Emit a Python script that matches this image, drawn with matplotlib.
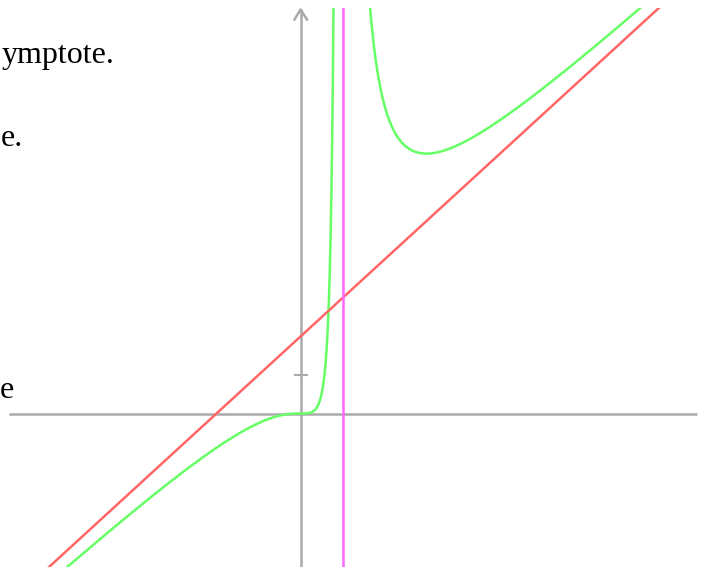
import numpy as np
import matplotlib
matplotlib.use("Agg")
import matplotlib.pyplot as plt

# Graf funkce y = x^3 / (x - 1)^2 s asymptotami
pole_x = 1.0            # svislá asymptota
sikma_k = 1.0           # šikmá asymptota y = k*x + q
sikma_q = 2.0
znacka_y = [1]          # jediná značka na ose y

# útržky textu vlevo (viditelná část)
texty = ["ymptote.", "e.", "e"]
texty_y = [63, 146, 398]       # účaří v pixelech
texty_x = [2, 1, 0]            # levý okraj v pixelech


def f(x):
    return x**3 / (x - pole_x) ** 2


W, H = 709, 567
# převod pixel -> data (osa x: 42 px/jednotku, osa y: 38.5 px/jednotku)
x0_px, y0_px, sx, sy = 300.5, 413.5, 42.0, 38.5
top_px = 8
xmin, xmax = (0 - x0_px) / sx, (W - x0_px) / sx
ymin, ymax = (y0_px - H) / sy, (y0_px - top_px) / sy

fig = plt.figure(figsize=(W / 100, H / 100), dpi=100)
ax = fig.add_axes([0, 0, 1, (H - top_px) / H])
ax.set_xlim(xmin, xmax)
ax.set_ylim(ymin, ymax)
ax.axis("off")

seda = "#aaaaaa"
lw = 1.8
# osa x
ax.plot([(9 - x0_px) / sx, (697 - x0_px) / sx], [0, 0], color=seda, lw=lw, solid_capstyle="butt")
# osa y se šipkou
tip = (y0_px - 9.5) / sy
ax.plot([0, 0], [ymin, tip], color=seda, lw=lw, solid_capstyle="butt")
ax.plot([-6 / sx, 0, 6.5 / sx], [tip - 10 / sy, tip, tip - 10 / sy], color=seda, lw=lw)
for v in znacka_y:
    ax.plot([-6 / sx, 6 / sx], [v, v], color=seda, lw=1.5)

# zelená křivka, po větvích
for a, b in [(xmin, pole_x - 1e-3), (pole_x + 1e-3, xmax)]:
    xs = np.linspace(a, b, 4000)
    ys = f(xs)
    ys = np.where(ys > ymax + 1, np.nan, ys)
    ax.plot(xs, ys, color="#66ff66", lw=lw)

# šikmá asymptota
xs = np.linspace(xmin, xmax, 10)
ax.plot(xs, sikma_k * xs + sikma_q, color="#ff6666", lw=lw)
# svislá asymptota
ax.plot([pole_x, pole_x], [ymin, ymax + 1], color="#ff66ff", lw=lw)

for t, yb, xl in zip(texty, texty_y, texty_x):
    fig.text(xl / W, 1 - yb / H, t, ha="left", va="baseline",
             family="Liberation Serif", fontsize=23, color="black")

fig.savefig("out.png", dpi=100)
